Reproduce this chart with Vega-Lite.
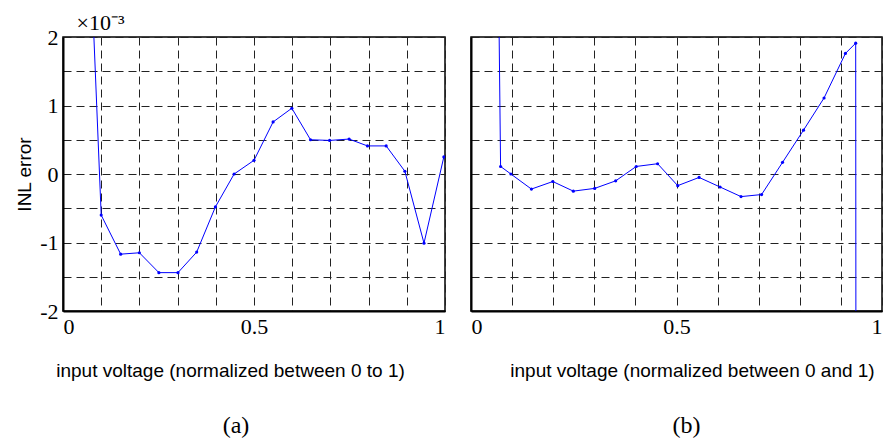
{
  "$schema": "https://vega.github.io/schema/vega-lite/v6.json",
  "background": "white",
  "padding": {"left": 14, "top": 10, "right": 0, "bottom": 0},
  "bounds": "flush",
  "spacing": 26,
  "config": {
    "view": {"stroke": "#000", "strokeWidth": 1.5},
    "axis": {
      "gridColor": "#222", "gridDash": [8, 5], "gridWidth": 1, "gridOpacity": 1,
      "domainColor": "#000", "domainWidth": 2,
      "ticks": false, "tickSize": 0,
      "labelFont": "Liberation Serif", "labelFontSize": 22, "labelColor": "#000", "labelOverlap": false,
      "titleFont": "Liberation Sans", "titleFontSize": 19, "titleFontWeight": "normal", "titleColor": "#000"
    },
    "title": {"font": "Liberation Serif", "fontSize": 24, "fontWeight": "normal", "color": "#000"}
  },
  "datasets": {
    "a": [
      {"x": 0.05, "y": 6.2},
      {"x": 0.100, "y": -0.60},
      {"x": 0.151, "y": -1.17},
      {"x": 0.200, "y": -1.15},
      {"x": 0.251, "y": -1.44},
      {"x": 0.301, "y": -1.44},
      {"x": 0.350, "y": -1.14},
      {"x": 0.399, "y": -0.48},
      {"x": 0.448, "y": 0.0},
      {"x": 0.500, "y": 0.20},
      {"x": 0.550, "y": 0.76},
      {"x": 0.599, "y": 0.96},
      {"x": 0.648, "y": 0.50},
      {"x": 0.698, "y": 0.49},
      {"x": 0.749, "y": 0.51},
      {"x": 0.797, "y": 0.41},
      {"x": 0.846, "y": 0.41},
      {"x": 0.895, "y": 0.04},
      {"x": 0.945, "y": -1.01},
      {"x": 0.997, "y": 0.25}
    ],
    "b": [
      {"x": 0.06, "y": 6.6},
      {"x": 0.072, "y": 0.11},
      {"x": 0.097, "y": 0.0},
      {"x": 0.147, "y": -0.22},
      {"x": 0.199, "y": -0.11},
      {"x": 0.249, "y": -0.25},
      {"x": 0.301, "y": -0.21},
      {"x": 0.352, "y": -0.10},
      {"x": 0.402, "y": 0.11},
      {"x": 0.454, "y": 0.15},
      {"x": 0.503, "y": -0.17},
      {"x": 0.555, "y": -0.05},
      {"x": 0.606, "y": -0.19},
      {"x": 0.657, "y": -0.33},
      {"x": 0.707, "y": -0.30},
      {"x": 0.758, "y": 0.17},
      {"x": 0.809, "y": 0.64},
      {"x": 0.859, "y": 1.11},
      {"x": 0.911, "y": 1.76},
      {"x": 0.936, "y": 1.91},
      {"x": 0.938, "y": -15}
    ]
  },
  "hconcat": [
    {
      "width": 382,
      "height": 274,
      "data": {"name": "a"},
      "title": {"text": "(a)", "orient": "bottom", "anchor": "middle", "frame": "group", "offset": 34, "dx": -18},
      "encoding": {
        "y": {
          "field": "y", "type": "quantitative",
          "scale": {"domain": [-2, 2], "nice": false, "zero": false},
          "axis": {
            "values": [-2, -1.5, -1, -0.5, 0, 0.5, 1, 1.5, 2],
            "labelExpr": "datum.value % 1 == 0 ? '' + datum.value : ''",
            "labelPadding": 5, "labelFlush": false,
            "title": "INL error", "titlePadding": 5
          }
        }
      },
      "layer": [
        {
          "mark": {"type": "line", "color": "#0000ff", "strokeWidth": 1, "clip": true},
          "encoding": {
            "x": {
              "field": "x", "type": "quantitative",
              "scale": {"domain": [0, 1], "nice": false, "zero": false},
              "axis": {
                "orient": "bottom",
                "values": [0, 0.1, 0.2, 0.3, 0.4, 0.5, 0.6, 0.7, 0.8, 0.9, 1],
                "labelExpr": "datum.value == 0 ? '0' : (abs(datum.value - 0.5) < 1e-9 ? '0.5' : (datum.value == 1 ? '1' : ''))",
                "labelFlush": true, "labelPadding": 5,
                "title": "input voltage (normalized between 0 to 1)", "titlePadding": 24, "titleX": 167
              }
            }
          }
        },
        {
          "mark": {"type": "point", "filled": true, "size": 10, "color": "#0000ff", "opacity": 1, "clip": true},
          "encoding": {
            "x": {
              "field": "x", "type": "quantitative",
              "scale": {"domain": [0, 1], "nice": false, "zero": false},
              "axis": {
                "orient": "top", "labels": false, "ticks": false, "domain": false, "grid": false,
                "title": "×10⁻³", "titleFont": "Liberation Serif", "titleFontSize": 22,
                "titleAnchor": "start", "titleAlign": "left", "titleBaseline": "alphabetic",
                "titleX": 13, "titleY": -8
              }
            }
          }
        }
      ],
      "resolve": {"axis": {"x": "independent"}}
    },
    {
      "width": 411,
      "height": 274,
      "data": {"name": "b"},
      "title": {"text": "(b)", "orient": "bottom", "anchor": "middle", "frame": "group", "offset": 34, "dx": 10},
      "encoding": {
        "x": {
          "field": "x", "type": "quantitative",
          "scale": {"domain": [0, 1], "nice": false, "zero": false},
          "axis": {
            "values": [0, 0.1, 0.2, 0.3, 0.4, 0.5, 0.6, 0.7, 0.8, 0.9, 1],
            "labelExpr": "datum.value == 0 ? '0' : (abs(datum.value - 0.5) < 1e-9 ? '0.5' : (datum.value == 1 ? '1' : ''))",
            "labelFlush": true, "labelPadding": 5,
            "title": "input voltage (normalized between 0 and 1)", "titlePadding": 24, "titleX": 221
          }
        },
        "y": {
          "field": "y", "type": "quantitative",
          "scale": {"domain": [-2, 2], "nice": false, "zero": false},
          "axis": {
            "values": [-2, -1.5, -1, -0.5, 0, 0.5, 1, 1.5, 2],
            "labels": false, "title": null
          }
        }
      },
      "layer": [
        {"mark": {"type": "line", "color": "#0000ff", "strokeWidth": 1, "clip": true}},
        {"mark": {"type": "point", "filled": true, "size": 10, "color": "#0000ff", "opacity": 1, "clip": true}}
      ]
    }
  ]
}
